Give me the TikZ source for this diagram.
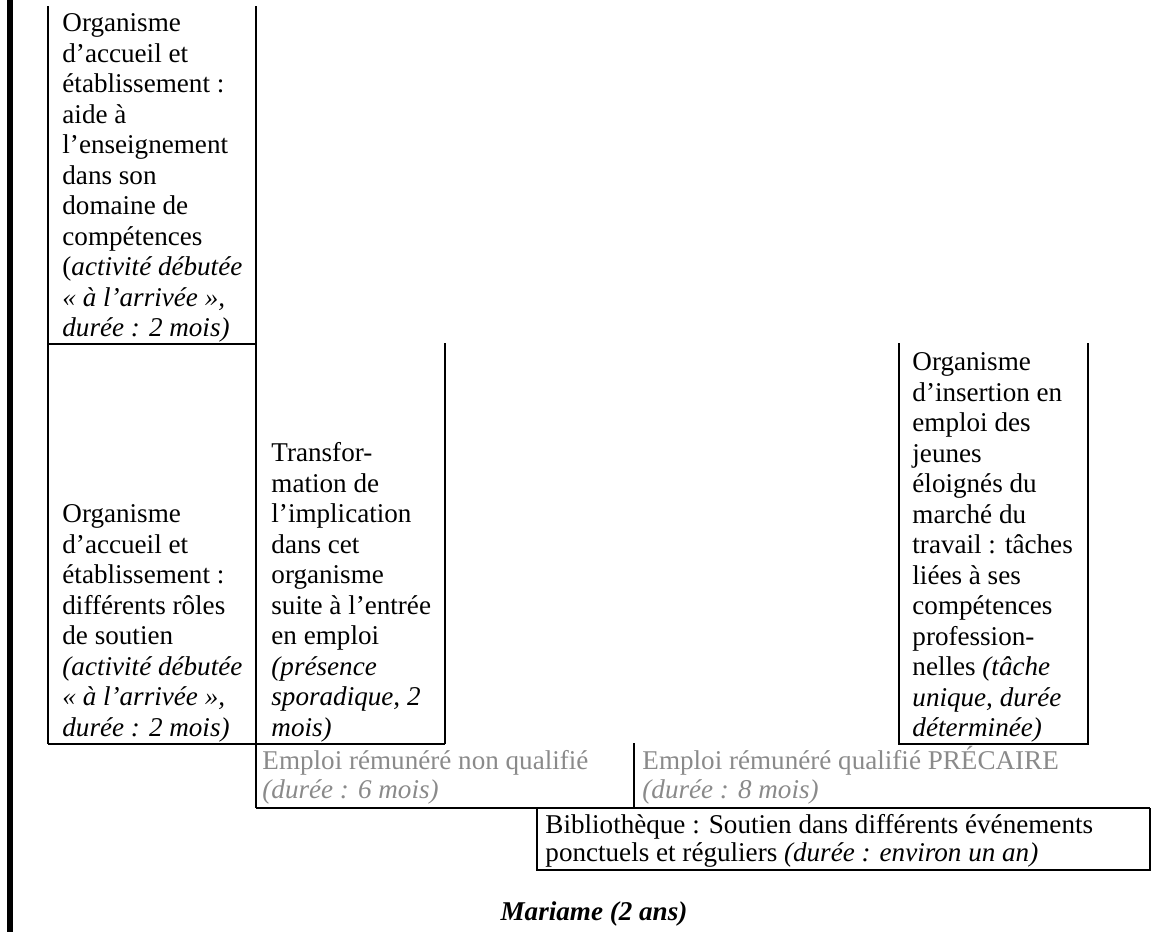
\documentclass[tikz,border=0pt]{standalone}
\usepackage{fontspec}
\setmainfont{Liberation Serif}
\definecolor{lightgraytext}{HTML}{8A8A8A}
\tikzset{
  px/.style={x=0.45pt,y=-0.45pt},
  rule/.style={line width=0.75pt,black},
  bar/.style={line width=2.7pt,black},
  txt/.style={anchor=north west,inner sep=0pt,align=left,
    font=\fontsize{12.2}{13.73}\selectfont},
  tighttxt/.style={txt,font=\fontsize{12.2}{12.6}\selectfont},
  graytxt/.style={txt,font=\fontsize{12.2}{13.05}\selectfont,text=lightgraytext}
}
\newcommand{\fl}{\rule{0pt}{11pt}}
\begin{document}
\begin{tikzpicture}[px]
\useasboundingbox (0,0) rectangle (1154,932);
% coordinates
\coordinate (bt) at (10,0);
\coordinate (bb) at (10,932);
% left bar
\draw[bar] (bt) -- (bb);
% column lines
\draw[rule] (48,6) -- (48,744);
\draw[rule] (256,6) -- (256,808);
\draw[rule] (48,344) -- (256,344);
\draw[rule] (48,744) -- (445,744);
\draw[rule] (445,343) -- (445,744);
% right box
\draw[rule] (899,343) -- (899,744) -- (1088,744) -- (1088,343);
% emploi row
\draw[rule] (634,743) -- (634,808);
\draw[rule] (256,808) -- (1150,808);
% bibliotheque box
\draw[rule] (537,808) -- (537,870) -- (1150,870) -- (1150,808);

\node[txt] (b1) at (62,6.6) {\fl Organisme\\
d’accueil et\\
établissement :\\
aide à\\
l’enseignement\\
dans son\\
domaine de\\
compétences\\
(\textit{activité débutée}\\
\textit{« à l’arrivée »,}\\
\textit{durée : 2 mois)}};

\node[txt] (b2) at (62,498) {\fl Organisme\\
d’accueil et\\
établissement :\\
différents rôles\\
de soutien\\
\textit{(activité débutée}\\
\textit{« à l’arrivée »,}\\
\textit{durée : 2 mois)}};

\node[txt] (b3) at (271,437) {\fl Transfor-\\
mation de\\
l’implication\\
dans cet\\
organisme\\
suite à l’entrée\\
en emploi\\
\textit{(présence}\\
\textit{sporadique, 2}\\
\textit{mois)}};

\node[txt] (b4) at (912,345.6) {\fl Organisme\\
d’insertion en\\
emploi des\\
jeunes\\
éloignés du\\
marché du\\
travail : tâches\\
liées à ses\\
compétences\\
profession-\\
nelles \textit{(tâche}\\
\textit{unique, durée}\\
\textit{déterminée)}};

\node[graytxt] (e1) at (262,745) {\fl Emploi rémunéré non qualifié\\
\textit{(durée : 6 mois)}};

\node[graytxt] (e2) at (642,745) {\fl Emploi rémunéré qualifié PRÉCAIRE\\
\textit{(durée : 8 mois)}};

\node[tighttxt] (bib) at (545,808.6) {\fl Bibliothèque : Soutien dans différents événements\\
ponctuels et réguliers \textit{(durée : environ un an)}};

\node[anchor=base,inner sep=0pt,font=\fontsize{12.2}{13.73}\selectfont\bfseries\itshape] (mar) at (594,920) {Mariame (2 ans)};
\end{tikzpicture}
\end{document}
